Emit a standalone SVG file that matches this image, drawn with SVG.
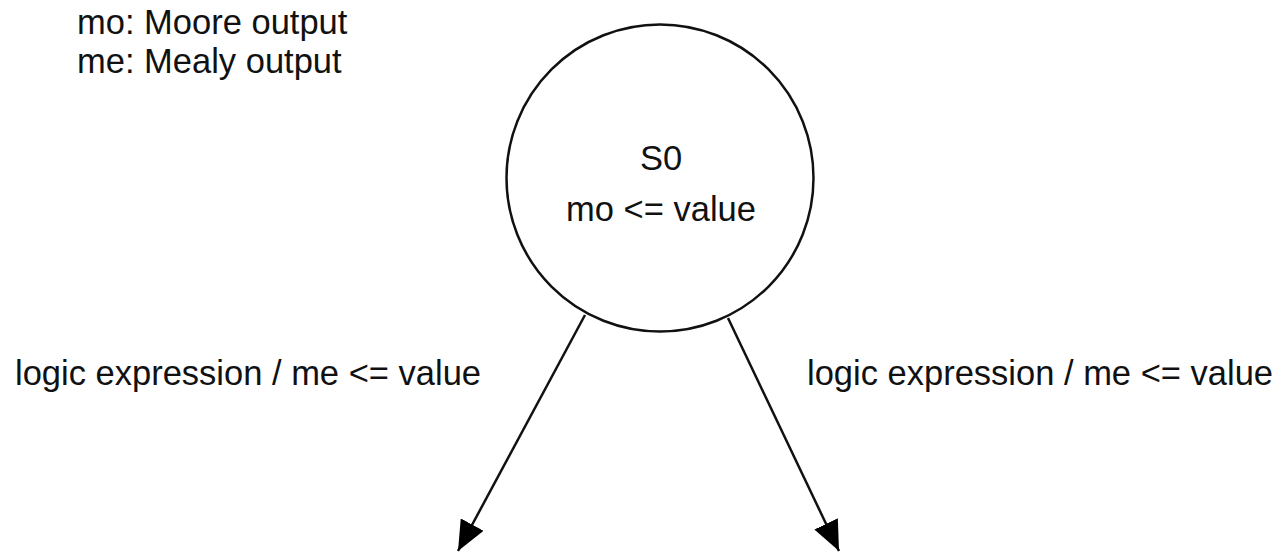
<svg xmlns="http://www.w3.org/2000/svg" width="1283" height="552" viewBox="0 0 1283 552">
<defs>
<style>
text{font-family:"Liberation Sans",Arial,sans-serif;font-size:34.5px;fill:#111}
.mid{text-anchor:middle}
.edge{stroke:#111;stroke-width:2.5;fill:none}
</style>
<marker id="ah" markerWidth="12" markerHeight="10" refX="11" refY="5" orient="auto" markerUnits="userSpaceOnUse" viewBox="0 0 12 10">
<path d="M0,0 L12,5 L0,10 Z" fill="#000"/>
</marker>
<marker id="arr" viewBox="0 0 30 26" refX="30" refY="13" markerWidth="30" markerHeight="26" orient="auto" markerUnits="userSpaceOnUse">
<path d="M0,0 L30,13 L0,26 Z" fill="#000"/>
</marker>
</defs>
<rect width="1283" height="552" fill="#fff"/>
<g id="legend">
<text x="77" y="34">mo: Moore output</text>
<text x="77" y="73">me: Mealy output</text>
</g>
<g id="S0">
<circle cx="660" cy="178" r="153.5" fill="#fff" stroke="#111" stroke-width="2.5"/>
<text class="mid" x="661" y="170">S0</text>
<text class="mid" x="661" y="221">mo &lt;= value</text>
</g>
<g id="connectors">
<line class="edge" x1="585" y1="315" x2="458" y2="551" marker-end="url(#arr)"/>
<line class="edge" x1="728" y1="318" x2="839" y2="551" marker-end="url(#arr)"/>
<text x="15" y="385">logic expression / me &lt;= value</text>
<text x="807" y="385">logic expression / me &lt;= value</text>
</g>
</svg>
